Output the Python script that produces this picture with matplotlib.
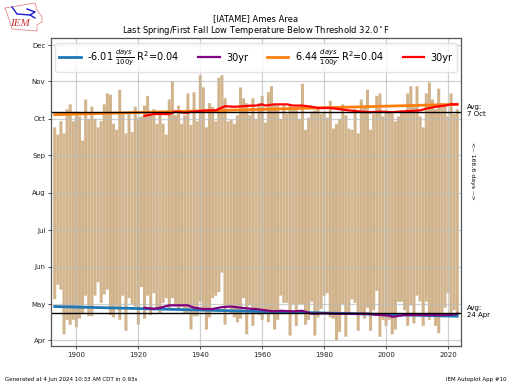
import numpy as np
import matplotlib
matplotlib.use("Agg")
import matplotlib.pyplot as plt

years = np.arange(1893, 2024)

# day of year of first fall low below threshold
fall_doy = [
    267, 261, 272, 262, 282, 286, 272, 280, 276, 256, 290, 274, 284, 274, 267, 272, 286, 295, 294, 270,
    265, 298, 278, 262, 278, 263, 284, 275, 276, 285, 293, 278, 282, 270, 278, 270, 261, 290, 305, 277,
    285, 270, 277, 295, 269, 296, 272, 310, 300, 267, 287, 284, 272, 308, 310, 291, 272, 273, 270, 277,
    300, 291, 287, 277, 291,
    274, 287, 293, 271, 296, 301, 286, 285, 274, 285, 278, 285, 283, 283, 274, 303, 265, 275, 280, 281,
    283, 278, 279, 275, 289, 266, 270, 274, 286, 277, 266, 265, 282, 262, 290, 283, 298, 265, 278, 293,
    295, 276, 281, 279, 278, 272, 276, 279, 280, 295, 301, 284, 301, 276, 267, 295, 304, 290, 282, 299,
    287, 285, 276, 295, 278, 282,
]

# day of year of last spring low below threshold
spring_doy = [
    125, 137, 133, 96, 108, 104, 108, 102, 109, 113, 128, 111, 111, 128, 139, 122, 129, 133, 112, 110,
    119, 108, 128, 99, 126, 121, 119, 104, 135, 109, 128, 112, 130, 117, 113, 122, 126, 117, 126, 119,
    117, 119, 113, 113, 100, 111, 111, 123, 115, 100, 110, 126, 128, 131, 147, 104, 119, 113, 110, 106,
    109, 126, 96, 120, 103,
    117, 112, 108, 116, 106, 116, 100, 108, 128, 122, 122, 95, 121, 103, 121, 121, 104, 108, 123, 95,
    110, 117, 128, 130, 110, 109, 91, 98, 121, 94, 112, 125, 122, 99, 113, 109, 118, 99, 116, 132,
    94, 108, 103, 108, 96, 100, 123, 123, 116, 103, 120, 105, 128, 123, 103, 123, 108, 112, 103, 97,
    110, 118, 130, 113, 116, 112,
]

trend_years = [1893, 2023]
spring_trend = [119.0, 111.0]
fall_trend = [277.5, 286.0]

# 30 year running means
fall_30yr_years = [1922, 1925, 1930, 1932, 1935, 1938, 1942, 1945, 1948, 1951, 1954, 1957, 1958, 1960, 1961,
                   1964, 1968, 1970, 1973, 1976, 1978, 1982, 1985, 1988, 1992, 1995, 1998, 2002, 2004, 2008,
                   2011, 2013, 2016, 2019, 2021, 2023]
fall_30yr = [276.5, 278, 278, 280, 279, 280, 281, 281, 284.5, 284, 284.5, 285, 285, 286, 285,
             286, 286, 285, 285, 284, 283, 283, 282, 281, 280, 279.5, 280, 279.5, 280, 280.5,
             281, 282.5, 284, 285, 286, 286]
spring_30yr_years = [1922, 1925, 1927, 1930, 1933, 1936, 1938, 1941, 1944, 1947, 1950, 1953, 1957, 1958, 1962,
                     1964, 1966, 1970, 1973, 1976, 1980, 1984, 1990, 1994, 1998, 2001, 2002, 2006, 2010, 2015,
                     2020, 2023]
spring_30yr = [118, 117, 118, 120, 120, 120, 118, 117, 117, 118.5, 119, 118, 117, 117, 115.5,
               115, 115.5, 115, 115.5, 113, 113.5, 113, 113, 113, 112, 111.5, 110.5, 112, 112, 112,
               112, 113]

avg_spring = 114
avg_fall = 280
month_ticks = [91, 121, 152, 182, 213, 244, 274, 305, 335]
month_labels = ["Apr", "May", "Jun", "Jul", "Aug", "Sep", "Oct", "Nov", "Dec"]
year_ticks = [1900, 1920, 1940, 1960, 1980, 2000, 2020]

fig = plt.figure(figsize=(5.12, 3.84), dpi=100)
ax = fig.add_axes([51 / 512, 1 - 346 / 384, 410 / 512, 308 / 384])

spring = np.array(spring_doy)
fall = np.array(fall_doy)
ax.bar(years, fall - spring, bottom=spring, width=0.98, color="tan", linewidth=0, snap=False)

ax.plot(trend_years, spring_trend, color="tab:blue", lw=2,
        label=r"-6.01 $\frac{days}{100y}$ R$^2$=0.04")
ax.plot(spring_30yr_years, spring_30yr, color="purple", lw=1.6, label="30yr")
ax.plot(trend_years, fall_trend, color="tab:orange", lw=2,
        label=r"6.44 $\frac{days}{100y}$ R$^2$=0.04")
ax.plot(fall_30yr_years, fall_30yr, color="red", lw=1.6, label="30yr")

ax.axhline(avg_spring, color="black", lw=1)
ax.axhline(avg_fall, color="black", lw=1)

ax.set_xlim(1891.8, 2024.2)
ax.set_ylim(86.4, 340.8)
ax.set_xticks(year_ticks)
ax.set_yticks(month_ticks)
ax.set_yticklabels(month_labels)
ax.tick_params(labelsize=5, length=2, width=0.6, pad=2, color="#333333", labelcolor="#222222")
ax.grid(True, color="#bbbbbb", lw=0.9, alpha=0.7)
for spine in ax.spines.values():
    spine.set_color("#555555")
    spine.set_linewidth(0.9)

ax.legend(loc="upper center", ncol=4, fontsize=7, framealpha=0.8, edgecolor="#dddddd",
          bbox_to_anchor=(0.5, 0.984), columnspacing=1.9, handlelength=2.2, handletextpad=0.7,
          borderpad=0.45, borderaxespad=0)

# text right of the axes
fig.text(467 / 512, 1 - 107 / 384, "Avg:", fontsize=5, va="center")
fig.text(467 / 512, 1 - 113.5 / 384, "7 Oct", fontsize=5, va="center")
fig.text(467 / 512, 1 - 308 / 384, "Avg:", fontsize=5, va="center")
fig.text(467 / 512, 1 - 315 / 384, "24 Apr", fontsize=5, va="center")
fig.text(473 / 512, 1 - 171 / 384, "<-- 166.6 days -->", fontsize=4.5, rotation=-90, ha="center", va="center")

fig.text(256 / 512, 1 - 18.5 / 384, "[IATAME] Ames Area", fontsize=6, ha="center", va="center")
fig.text(256 / 512, 1 - 30.5 / 384, r"Last Spring/First Fall Low Temperature Below Threshold 32.0$^\circ$F",
         fontsize=6, ha="center", va="center")
fig.text(5 / 512, 1 - 380 / 384, "Generated at 4 Jun 2024 10:33 AM CDT in 0.93s", fontsize=4, va="center")
fig.text(507 / 512, 1 - 380 / 384, "IEM Autoplot App #10", fontsize=4, ha="right", va="center")

# IEM logo, drawn in figure pixels
logo = fig.add_axes([0, 0, 1, 1], facecolor="none")
logo.set_xlim(0, 512)
logo.set_ylim(384, 0)
logo.axis("off")
logo.plot([5, 35, 37, 42, 42, 37, 37, 12, 10, 5], [8, 3, 10, 17, 22, 25, 31, 29, 22, 8],
          color="#e08a8a", lw=0.6)
logo.plot([12, 17, 30, 35], [7, 14, 15, 18], color="#1a1acc", lw=1)
logo.plot([27, 35, 30], [9, 12, 15], color="#1a1acc", lw=1)
logo.text(20, 24, "IEM", color="#cc3333", fontsize=8, family="Liberation Serif", style="italic",
          ha="center", va="center")

fig.savefig("out.png", dpi=100)
